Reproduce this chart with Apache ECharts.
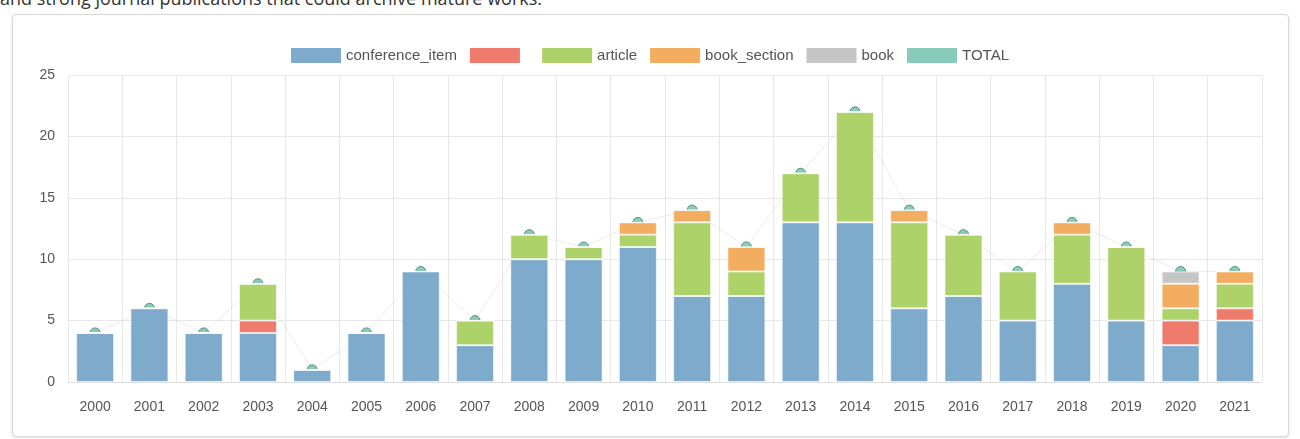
<!DOCTYPE html>
<html>
<head>
<meta charset="utf-8">
<script src="https://cdn.jsdelivr.net/npm/echarts@6/dist/echarts.min.js"></script>
<style>
html,body{margin:0;padding:0;background:#fff;width:1300px;height:439px;overflow:hidden;}
#intro{position:absolute;left:0;top:-14px;font-family:"Open Sans",sans-serif;font-size:18px;color:#333;white-space:nowrap;}
#panel{position:absolute;left:12px;top:14px;width:1275px;height:421px;border:1px solid #d8d8d8;border-radius:4px;box-shadow:0 1px 3px rgba(0,0,0,0.12);background:#fff;}
#chart{position:absolute;left:0;top:0;width:1300px;height:439px;}
</style>
</head>
<body>
<div id="intro">and strong journal publications that could archive mature works.</div>
<div id="panel"></div>
<div id="chart"></div>
<script>
const years = ['2000','2001','2002','2003','2004','2005','2006','2007','2008','2009','2010','2011','2012','2013','2014','2015','2016','2017','2018','2019','2020','2021'];
const conferenceItem = [4,6,4,4,1,4,9,3,10,10,11,7,7,13,13,6,7,5,8,5,3,5];
const unnamedRed =     [0,0,0,1,0,0,0,0,0,0,0,0,0,0,0,0,0,0,0,0,2,1];
const article =        [0,0,0,3,0,0,0,2,2,1,1,6,2,4,9,7,5,4,4,6,1,2];
const bookSection =    [0,0,0,0,0,0,0,0,0,0,1,1,2,0,0,1,0,0,1,0,2,1];
const book =           [0,0,0,0,0,0,0,0,0,0,0,0,0,0,0,0,0,0,0,0,1,0];
const total =          [4,6,4,8,1,4,9,5,12,11,13,14,11,17,22,14,12,9,13,11,9,9];
const yTicks = {min:0, max:25, interval:5};

const chart = echarts.init(document.getElementById('chart'), null, {renderer:'canvas'});
const font = '"Liberation Sans", Arial, sans-serif';
function barSeries(name, data, color){
  return {name, type:'bar', stack:'s', data, barWidth:'70%', z:3,
    itemStyle:{color, borderColor:'rgba(255,255,255,0.6)', borderWidth:1}};
}
chart.setOption({
  animation:false,
  backgroundColor:'transparent',
  color:['#7eaacb','#ee7b6c','#aed26a','#f2ad61','#c6c6c6','#88cbba'],
  legend:{
    top:43, left:'center', itemWidth:50, itemHeight:15, itemGap:13,
    icon:'rect',
    itemStyle:{borderWidth:0},
    textStyle:{fontFamily:font, fontSize:15, color:'#555'},
    data:['conference_item',' ','article','book_section','book','TOTAL']
  },
  grid:{left:68, right:38, top:75, bottom:57},
  xAxis:{
    type:'category', data:years,
    axisLine:{lineStyle:{color:'#ddd'}},
    axisTick:{length:12, lineStyle:{color:'#e3e3e3'}},
    splitLine:{show:true, lineStyle:{color:'#e8e8e8'}},
    axisLabel:{fontFamily:font, fontSize:14, color:'#555', margin:18}
  },
  yAxis:{
    type:'value', min:yTicks.min, max:yTicks.max, interval:yTicks.interval,
    axisLine:{show:false}, axisTick:{show:false},
    splitLine:{lineStyle:{color:'#e8e8e8'}},
    axisLabel:{fontFamily:font, fontSize:14, color:'#555', margin:13}
  },
  series:[
    barSeries('conference_item', conferenceItem, '#7eaacb'),
    barSeries(' ', unnamedRed, '#ee7b6c'),
    barSeries('article', article, '#aed26a'),
    barSeries('book_section', bookSection, '#f2ad61'),
    barSeries('book', book, '#c6c6c6'),
    {name:'TOTAL', type:'line', data:total, z:2, symbol:'circle', symbolSize:10,
     lineStyle:{color:'rgba(200,200,200,0.35)', width:1},
     itemStyle:{color:'#88cbba', borderColor:'#5f8f86', borderWidth:1}}
  ]
});
</script>
</body>
</html>
